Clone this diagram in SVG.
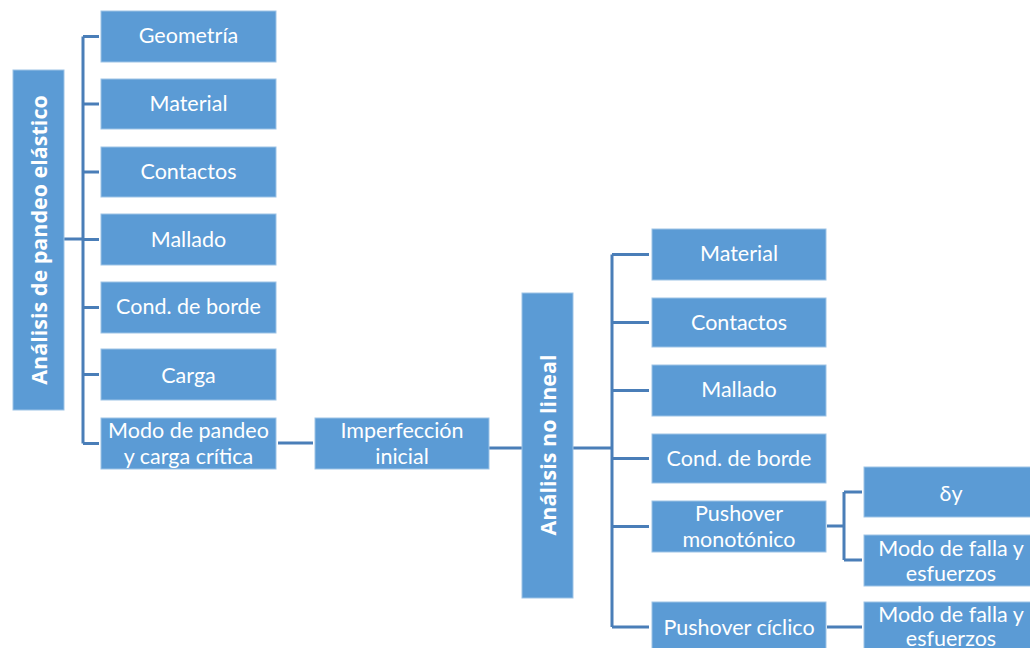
<svg xmlns="http://www.w3.org/2000/svg" width="1030" height="648" viewBox="0 0 1030 648">
<style>
.b{fill:#5B9BD5;stroke:#9DC3E6;stroke-width:1}
.t{font-family:Lato,"Open Sans","Liberation Sans",sans-serif;font-size:21.5px;fill:#fff;text-anchor:middle;dominant-baseline:central}
.v{font-family:"Open Sans","Liberation Sans",sans-serif;font-size:21.5px;font-weight:bold;fill:#fff;text-anchor:middle;dominant-baseline:central}
.c{fill:none;stroke:#4A7EB8;stroke-width:3}
</style>
<rect width="1030" height="648" fill="#fff"/>
<g id="connectors">
<path class="c" d="M64 239H83M83 36.5V443.5M83 36.5H99M83 104H99M83 172H99M83 239.5H99M83 307.5H99M83 374.5H99M83 443.5H99"/>
<path class="c" d="M278 443H313"/>
<path class="c" d="M489 448H522"/>
<path class="c" d="M573 448H612M612 254.5V627M612 254.5H649M612 322.5H649M612 390.5H649M612 458.5H649M612 526.5H649M612 627H649"/>
<path class="c" d="M827 526H844M844 492V560M844 492H862M844 560H862"/>
<path class="c" d="M827 627H862"/>
</g>
<g id="n-elastico"><rect class="b" x="13" y="70" width="51" height="340"/><text class="v" transform="translate(38.5 240) rotate(-90)">Análisis de pandeo elástico</text></g>
<g id="n-geometria"><rect class="b" x="101" y="11" width="175" height="51"/><text class="t" x="188.5" y="35">Geometría</text></g>
<g id="n-material1"><rect class="b" x="101" y="79" width="175" height="50"/><text class="t" x="188.5" y="103">Material</text></g>
<g id="n-contactos1"><rect class="b" x="101" y="147" width="175" height="50"/><text class="t" x="188.5" y="171">Contactos</text></g>
<g id="n-mallado1"><rect class="b" x="101" y="214" width="175" height="51"/><text class="t" x="188.5" y="239">Mallado</text></g>
<g id="n-cond1"><rect class="b" x="101" y="282" width="175" height="51"/><text class="t" x="188.5" y="306">Cond. de borde</text></g>
<g id="n-carga"><rect class="b" x="101" y="349" width="175" height="51"/><text class="t" x="188.5" y="375">Carga</text></g>
<g id="n-modo"><rect class="b" x="101" y="418" width="175" height="51"/><text class="t" x="188.5" y="430">Modo de pandeo</text><text class="t" x="188.5" y="456">y carga crítica</text></g>
<g id="n-imperf"><rect class="b" x="315" y="418" width="174" height="51"/><text class="t" x="402" y="430">Imperfección</text><text class="t" x="402" y="456">inicial</text></g>
<g id="n-nolineal"><rect class="b" x="522" y="293" width="51" height="305"/><text class="v" transform="translate(547.5 445) rotate(-90)">Análisis no lineal</text></g>
<g id="n-material2"><rect class="b" x="652" y="229" width="174" height="51"/><text class="t" x="739" y="253">Material</text></g>
<g id="n-contactos2"><rect class="b" x="652" y="298" width="174" height="49"/><text class="t" x="739" y="322">Contactos</text></g>
<g id="n-mallado2"><rect class="b" x="652" y="365" width="174" height="51"/><text class="t" x="739" y="389">Mallado</text></g>
<g id="n-cond2"><rect class="b" x="652" y="434" width="174" height="49"/><text class="t" x="739" y="458">Cond. de borde</text></g>
<g id="n-pushmono"><rect class="b" x="652" y="501" width="174" height="51"/><text class="t" x="739" y="513">Pushover</text><text class="t" x="739" y="539">monotónico</text></g>
<g id="n-pushcic"><rect class="b" x="652" y="602" width="174" height="51"/><text class="t" x="739" y="627">Pushover cíclico</text></g>
<g id="n-dy"><rect class="b" x="864" y="467" width="174" height="50"/><text class="t" x="951" y="493">δy</text></g>
<g id="n-falla1"><rect class="b" x="864" y="535" width="174" height="51"/><text class="t" x="951" y="548">Modo de falla y</text><text class="t" x="951" y="573">esfuerzos</text></g>
<g id="n-falla2"><rect class="b" x="864" y="602" width="174" height="51"/><text class="t" x="951" y="614">Modo de falla y</text><text class="t" x="951" y="638">esfuerzos</text></g>
</svg>
